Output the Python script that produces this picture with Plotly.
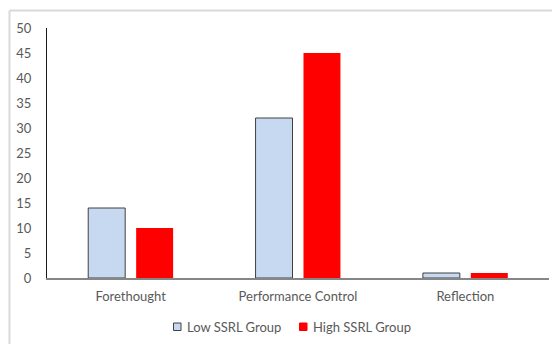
import plotly.graph_objects as go

categories = ["Forethought", "Performance Control", "Reflection"]
low_ssrl = [14, 32, 1]
high_ssrl = [10, 45, 1]
series_names = ["Low SSRL Group", "High SSRL Group"]
y_ticks = [0, 5, 10, 15, 20, 25, 30, 35, 40, 45, 50]

FONT = "Lato, 'Open Sans', sans-serif"
TEXT_COLOR = "#595959"
LOW_FILL, LOW_EDGE = "#C6D9F1", "#404040"
HIGH_FILL = "#FF0000"

W, H = 552, 344
M_L, M_R, M_T, M_B = 47, 3, 28, 66
PW, PH = W - M_L - M_R, H - M_T - M_B


def px_x(px):
    """Pixel column -> paper x."""
    return (px - M_L) / PW


def px_y(py):
    """Pixel row -> paper y."""
    return (H - M_B - py) / PH


fig = go.Figure()
fig.add_trace(go.Bar(
    x=categories, y=low_ssrl, name=series_names[0],
    marker=dict(color=LOW_FILL, line=dict(color=LOW_EDGE, width=1)),
))
fig.add_trace(go.Bar(
    x=categories, y=high_ssrl, name=series_names[1],
    marker=dict(color=HIGH_FILL, line=dict(color=HIGH_FILL, width=0)),
))

# thin grey frame along the top and left edges of the chart area
frame = dict(type="line", xref="paper", yref="paper",
             line=dict(color="#D9D9D9", width=2), layer="below")
fig.add_shape(**frame, x0=px_x(9.5), x1=px_x(553), y0=px_y(10.5), y1=px_y(10.5))
fig.add_shape(**frame, x0=px_x(9.5), x1=px_x(9.5), y0=px_y(345), y1=px_y(10.5))

# compact legend: small swatch followed by its label
legend_items = [
    (173.5, series_names[0], LOW_FILL, LOW_EDGE),
    (299.5, series_names[1], HIGH_FILL, HIGH_FILL),
]
for left, label, fill, edge in legend_items:
    fig.add_shape(type="rect", xref="paper", yref="paper",
                  x0=px_x(left), x1=px_x(left + 7.5),
                  y0=px_y(330.5), y1=px_y(323),
                  fillcolor=fill, line=dict(color=edge, width=1))
    fig.add_annotation(xref="paper", yref="paper", x=px_x(left + 11),
                       y=px_y(326.5), text=label, showarrow=False,
                       xanchor="left", yanchor="middle",
                       font=dict(family=FONT, size=13, color=TEXT_COLOR))

fig.update_layout(
    width=W, height=H,
    margin=dict(l=M_L, r=M_R, t=M_T, b=M_B),
    paper_bgcolor="white", plot_bgcolor="white",
    barmode="group", bargap=0.427, bargroupgap=0.229,
    font=dict(family=FONT, size=13, color=TEXT_COLOR),
    showlegend=False,
    xaxis=dict(showline=True, linecolor="#868686", linewidth=1.5,
               ticks="", showgrid=False, zeroline=False,
               ticklabelstandoff=6,
               tickfont=dict(family=FONT, size=13, color=TEXT_COLOR)),
    yaxis=dict(range=[0, 50], tickvals=y_ticks, showline=True,
               linecolor="#1a1a1a", linewidth=1, ticks="",
               showgrid=False, zeroline=False, ticklabelstandoff=12,
               tickfont=dict(family=FONT, size=13, color=TEXT_COLOR)),
)

fig.write_html("out.html")
